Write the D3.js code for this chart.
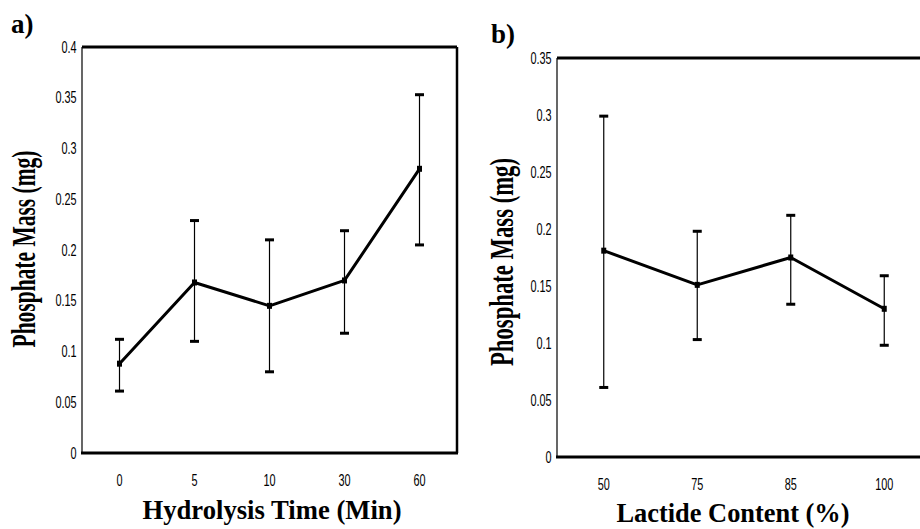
<!DOCTYPE html>
<html><head><meta charset="utf-8">
<script src="https://cdn.jsdelivr.net/npm/d3@7"></script>
<style>
html,body{margin:0;padding:0;background:#fff;}
svg{display:block;}
.tick text{font-family:"Liberation Sans Narrow","Arial Narrow","Liberation Sans",Arial,sans-serif;}
</style></head>
<body><svg id="c" width="920" height="529"></svg>
<script>
// Panel a data
const catsA = ["0","5","10","30","60"];
const meanA = [0.088, 0.168, 0.145, 0.170, 0.280];
const upA   = [0.112, 0.229, 0.210, 0.219, 0.353];
const loA   = [0.061, 0.110, 0.080, 0.118, 0.205];
const yTicksA = [0, 0.05, 0.1, 0.15, 0.2, 0.25, 0.3, 0.35, 0.4];
// Panel b data
const catsB = ["50","75","85","100"];
const meanB = [0.181, 0.151, 0.175, 0.130];
const upB   = [0.299, 0.198, 0.212, 0.159];
const loB   = [0.061, 0.103, 0.134, 0.098];
const yTicksB = [0, 0.05, 0.1, 0.15, 0.2, 0.25, 0.3, 0.35];

const svg = d3.select("#c");
const fmt = d => String(+d.toFixed(2));

function panel(o){
  const g = svg.append("g");
  const x = d3.scaleBand().domain(o.cats).range([o.x0, o.x1]);
  const y = d3.scaleLinear().domain([0, o.ymax]).range([o.y0, o.y1]);
  const cx = c => x(c) + x.bandwidth()/2;

  // frame
  g.append("line").attr("x1",o.x0).attr("x2",o.x0).attr("y1",y(0)).attr("y2",y(o.ymax)).attr("stroke","#000").attr("stroke-width",1.2);
  g.append("line").attr("x1",o.x0).attr("x2",o.x1).attr("y1",y(o.ymax)).attr("y2",y(o.ymax)).attr("stroke","#000").attr("stroke-width",3);
  g.append("line").attr("x1",o.x0-1).attr("x2",o.x1+1).attr("y1",y(0)).attr("y2",y(0)).attr("stroke","#000").attr("stroke-width",3);
  if (o.rightBorder) g.append("line").attr("x1",o.x1).attr("x2",o.x1).attr("y1",y(0)).attr("y2",y(o.ymax)).attr("stroke","#000").attr("stroke-width",2.5);

  // y axis
  const ya = g.append("g").attr("transform",`translate(${o.x0},0)`)
    .call(d3.axisLeft(y).tickValues(o.yTicks).tickFormat(fmt).tickSize(0).tickPadding(8));
  ya.select(".domain").remove();
  ya.selectAll("text").attr("font-size",16).attr("fill","#000").attr("transform","scale(0.68,1)");

  // x axis
  const xa = g.append("g").attr("transform",`translate(0,${y(0)})`)
    .call(d3.axisBottom(x).tickSize(0).tickPadding(22));
  xa.select(".domain").remove();
  xa.selectAll("text").attr("font-size",16).attr("fill","#000").attr("transform","scale(0.68,1)");

  // error bars
  const eb = g.append("g");
  o.cats.forEach((c,i)=>{
    eb.append("line").attr("x1",cx(c)).attr("x2",cx(c)).attr("y1",y(o.lo[i])).attr("y2",y(o.up[i])).attr("stroke","#000").attr("stroke-width",1.2);
    [o.lo[i],o.up[i]].forEach(v=>{
      eb.append("line").attr("x1",cx(c)-4.5).attr("x2",cx(c)+4.5).attr("y1",y(v)).attr("y2",y(v)).attr("stroke","#000").attr("stroke-width",3);
    });
  });
  // line
  g.append("path").datum(o.mean)
    .attr("d", d3.line().x((d,i)=>cx(o.cats[i])).y(d=>y(d)))
    .attr("fill","none").attr("stroke","#000").attr("stroke-width",3).attr("stroke-linejoin","round");
  g.selectAll("rect.m").data(o.mean).enter().append("rect")
    .attr("x",(d,i)=>cx(o.cats[i])-2.5).attr("y",d=>y(d)-3).attr("width",5).attr("height",6).attr("fill","#000");

  // titles
  g.append("text").attr("x",o.xtX).attr("y",o.xtY).attr("text-anchor","middle")
    .attr("font-family","'Liberation Serif','Times New Roman',serif").attr("font-weight","bold")
    .attr("font-size",28).attr("textLength",o.xtLen).attr("lengthAdjust","spacingAndGlyphs").text(o.xTitle);
  g.append("text").attr("transform",`translate(${o.ytX},${o.ytY}) rotate(-90)`).attr("text-anchor","middle")
    .attr("font-family","'Liberation Serif','Times New Roman',serif").attr("font-weight","bold")
    .attr("font-size",33).attr("textLength",o.ytLen).attr("lengthAdjust","spacingAndGlyphs").text("Phosphate Mass (mg)");
  g.append("text").attr("x",o.lbX).attr("y",o.lbY)
    .attr("font-family","'Liberation Serif','Times New Roman',serif").attr("font-weight","bold")
    .attr("font-size",27).text(o.label);
}

panel({cats:catsA, mean:meanA, up:upA, lo:loA, yTicks:yTicksA, ymax:0.4,
  x0:82, x1:457, y0:453, y1:47, rightBorder:true,
  xTitle:"Hydrolysis Time (Min)", xtX:272, xtY:519, xtLen:259,
  ytX:35, ytY:249, ytLen:197, label:"a)", lbX:11, lbY:33});
panel({cats:catsB, mean:meanB, up:upB, lo:loB, yTicks:yTicksB, ymax:0.35,
  x0:557, x1:931, y0:457, y1:58, rightBorder:false,
  xTitle:"Lactide Content (%)", xtX:733, xtY:522, xtLen:233,
  ytX:513, ytY:262, ytLen:208, label:"b)", lbX:491, lbY:43});
</script></body></html>
